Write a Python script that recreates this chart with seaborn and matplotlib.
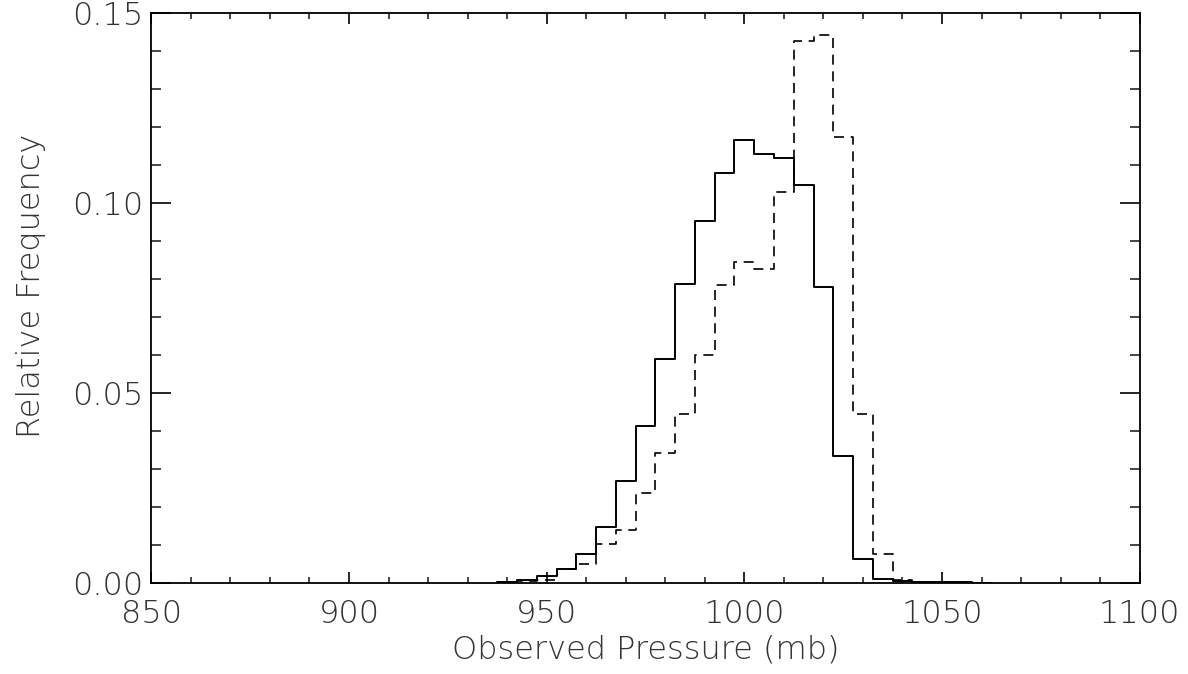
# Histograms of observed pressure, two samples (solid / dashed), IDL-like look.

import numpy as np
import pandas as pd
import seaborn as sns
import matplotlib
matplotlib.use("Agg")
import matplotlib.pyplot as plt
from matplotlib.ticker import MultipleLocator

sns.set_theme(style="white")
plt.rcParams['font.family'] = ['DejaVu Sans']

# Bin centres (mb), bin width 5 mb.
pressure = [940, 945, 950, 955, 960, 965, 970, 975, 980, 985, 990, 995, 1000,
            1005, 1010, 1015, 1020, 1025, 1030, 1035, 1040, 1045, 1050, 1055, 1060]

# Relative frequency, solid line.
freq_solid = [0.0003, 0.0007, 0.0018, 0.0037, 0.0075, 0.0147, 0.0268, 0.0413, 0.0588,
              0.0786, 0.0952, 0.1079, 0.1165, 0.1128, 0.1118, 0.1046, 0.0778, 0.0333,
              0.0063, 0.0009, 0.0004, 0.0002, 0.0001, 0.0001, 0.0]

# Relative frequency, dashed line.
freq_dashed = [0.0002, 0.0004, 0.0008, 0.0035, 0.0048, 0.0102, 0.0139, 0.0237, 0.0340,
               0.0444, 0.0599, 0.0784, 0.0845, 0.0825, 0.1029, 0.1426, 0.1441, 0.1174,
               0.0445, 0.0075, 0.0006, 0.0003, 0.0003, 0.0002, 0.0]

width = 5
edges = [p - width / 2 for p in pressure] + [pressure[-1] + width / 2]

df = pd.DataFrame({"pressure": pressure, "solid": freq_solid, "dashed": freq_dashed})

fig = plt.figure(figsize=(11.88, 6.74), dpi=100)
ax = fig.add_axes([0.1274, 0.1355, 0.9593 - 0.1274, 0.9812 - 0.1355])

sns.histplot(data=df, x="pressure", weights="solid", bins=edges, element="step",
             fill=False, color="black", linewidth=1.4, ax=ax)
sns.histplot(data=df, x="pressure", weights="dashed", bins=edges, element="step",
             fill=False, color="black", linewidth=1.2, linestyle=(0, (6, 4)), ax=ax)

ax.set_xlim(850, 1100)
ax.set_ylim(0, 0.15)
ax.xaxis.set_major_locator(MultipleLocator(50))
ax.xaxis.set_minor_locator(MultipleLocator(10))
ax.yaxis.set_major_locator(MultipleLocator(0.05))
ax.yaxis.set_minor_locator(MultipleLocator(0.01))
ax.yaxis.set_major_formatter(matplotlib.ticker.FormatStrFormatter("%.2f"))

for s in ax.spines.values():
    s.set_color("black")
    s.set_linewidth(1.3)

ax.tick_params(axis="x", which="major", direction="in", length=8, width=1.2,
               top=True, bottom=True, labelsize=23, pad=12, colors="black")
ax.tick_params(axis="x", which="minor", direction="in", length=4.5, width=1.2,
               top=True, bottom=True)
ax.tick_params(axis="y", which="major", direction="in", length=14.5, width=1.2,
               left=True, right=True, labelsize=23, pad=6, colors="black")
ax.tick_params(axis="y", which="minor", direction="in", length=7.5, width=1.2,
               left=True, right=True)
for lab in ax.get_xticklabels() + ax.get_yticklabels():
    lab.set_fontweight(200)
    lab.set_color("#333333")

ax.set_xlabel("Observed Pressure (mb)", fontsize=23, fontweight=200, color="#333333",
              labelpad=4)
ax.set_ylabel("Relative Frequency", fontsize=23, fontweight=200, color="#333333")
ax.yaxis.set_label_coords(-0.107, 0.52)

plt.savefig("out.png", dpi=100, facecolor="white")
plt.close()
